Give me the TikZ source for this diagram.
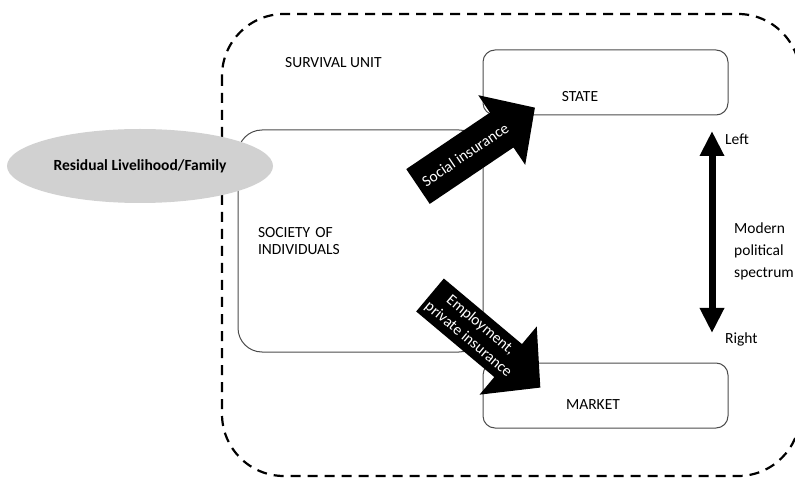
\documentclass[tikz,border=0pt]{standalone}
\usepackage{fontspec}
\setmainfont{Carlito}
\usetikzlibrary{shapes}
\usetikzlibrary{arrows.meta}
\usepackage{color}
\tikzset{
  every node/.style={font=\fontsize{15.5}{17}\selectfont},
}

\begin{document}
\begin{tikzpicture}[x=1pt,y=-1pt,
  box/.style={draw=black!70,line width=1pt,rounded corners=12pt,minimum width=245pt,minimum height=65pt},
  txt/.style={inner sep=0pt},
  fatlabel/.style={txt,text=white,align=center,transform shape,font=\fontsize{15.5}{19}\selectfont}]

        \useasboundingbox (0,0) rectangle (795,478);
        \clip (0,0) rectangle (795,478);

        % survival unit
        \draw[dash pattern=on 10pt off 7pt,line width=2.2pt,rounded corners=62pt] (222,14) rectangle (800,476);
        \node[txt,anchor=west] (unit) at (285,63) {SURVIVAL UNIT};

        \node[box,rounded corners=24pt,minimum height=222pt,text width=205pt,inner xsep=20pt,align=left] (society) at (360.5,241) {SOCIETY OF\\INDIVIDUALS};
        \node[box] (state) at (605.5,82.5) {};
        \node[box] (market) at (605.5,395.5) {};
        \node[txt] (statetxt) at (580,97) {STATE};
        \node[txt] (markettxt) at (593,405) {MARKET};

        \node[ellipse,fill=black!18,minimum width=266pt,minimum height=74pt,font=\fontsize{15.5}{17}\selectfont\bfseries] (family) at (140,166) {Residual Livelihood/Family};

        % fat arrows
        \begin{scope}[shift={(418,186.5)},rotate=34]
          \fill (0,-21) -- (101,-21) -- (101,-42) -- (141,0) -- (101,42) -- (101,21) -- (0,21) -- cycle;
          \node[fatlabel] (social) at (57,0) {Social insurance};
        \end{scope}
        \begin{scope}[shift={(430,295)},rotate=-40]
          \fill (0,-21.5) -- (102,-21.5) -- (102,-44.5) -- (144,0) -- (102,44.5) -- (102,21.5) -- (0,21.5) -- cycle;
          \node[fatlabel] (employ) at (58,0) {Employment,\\private insurance};
        \end{scope}

        % political spectrum
        \coordinate (lefttip) at (712,131);
        \coordinate (righttip) at (712,333);
        \draw[line width=7pt,{Triangle[width=23pt,length=25pt]}-{Triangle[width=23pt,length=25pt]}] (lefttip) -- (righttip);
        \node[txt,anchor=west] (left) at (725,139) {Left};
        \node[txt,anchor=west] (right) at (725,339) {Right};
        \node[txt,anchor=west,align=left,font=\fontsize{15.5}{22}\selectfont] (spectrum) at (734,251) {Modern\\political\\spectrum};

\end{tikzpicture}
\end{document}
